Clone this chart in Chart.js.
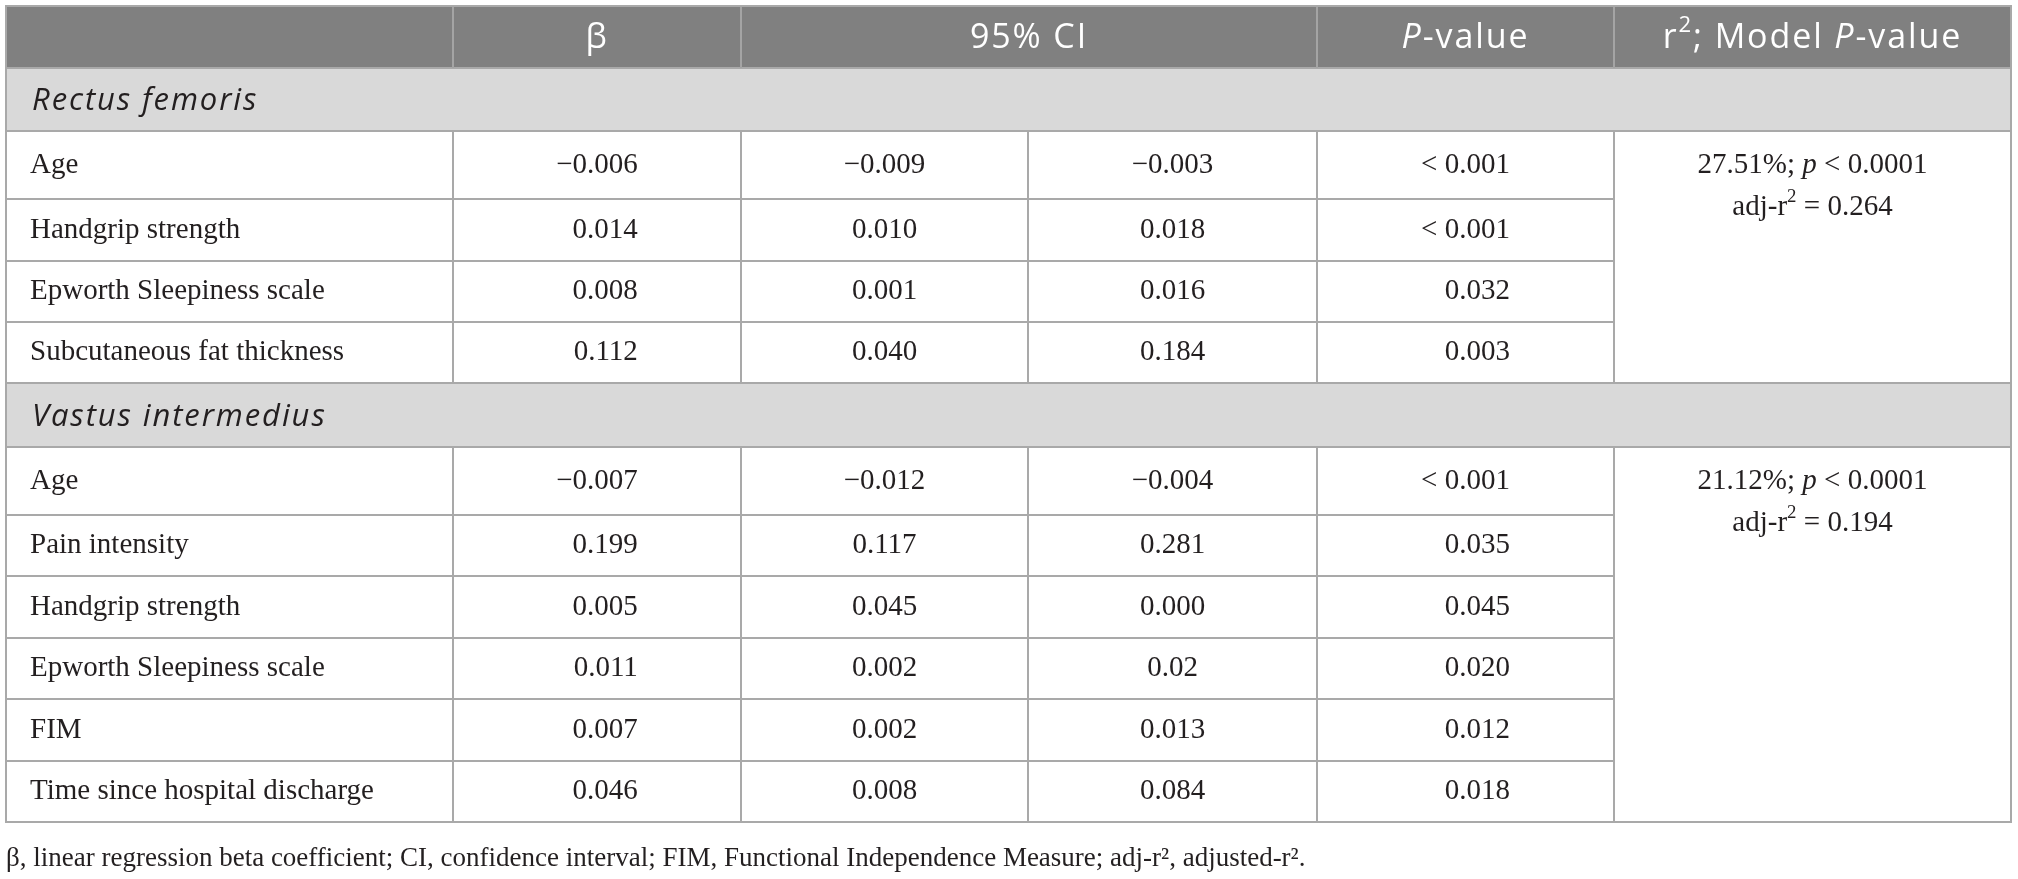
<!DOCTYPE html>
<html lang="en">
<head>
    <meta charset="UTF-8">
    <title>Regression table</title>
    <style>
        html, body { margin: 0; padding: 0; background: #ffffff; overflow: hidden; }
        /* canvas fills the whole window */
        .chart-box { width: 2018px; height: 879px; position: relative; }
    </style>
    <script src="https://cdn.jsdelivr.net/npm/chart.js"></script>
</head>
<body>
    <div class="chart-box">
        <canvas id="myChart"></canvas>
    </div>

    <script>
        // --- table data ---
        const headerLabels = ['', 'β', '95% CI', '', '*P*-value', 'r^2; Model *P*-value'];
        const groupNames = ['Rectus femoris', 'Vastus intermedius'];

        const rfVariables = ['Age', 'Handgrip strength', 'Epworth Sleepiness scale', 'Subcutaneous fat thickness'];
        const rfBeta = ['−0.006', '0.014', '0.008', '0.112'];
        const rfCiLow = ['−0.009', '0.010', '0.001', '0.040'];
        const rfCiHigh = ['−0.003', '0.018', '0.016', '0.184'];
        const rfPValue = ['< 0.001', '< 0.001', '0.032', '0.003'];
        const rfModel = ['27.51%; *p* < 0.0001', 'adj-r^2 = 0.264'];

        const viVariables = ['Age', 'Pain intensity', 'Handgrip strength', 'Epworth Sleepiness scale', 'FIM', 'Time since hospital discharge'];
        const viBeta = ['−0.007', '0.199', '0.005', '0.011', '0.007', '0.046'];
        const viCiLow = ['−0.012', '0.117', '0.045', '0.002', '0.002', '0.008'];
        const viCiHigh = ['−0.004', '0.281', '0.000', '0.02', '0.013', '0.084'];
        const viPValue = ['< 0.001', '0.035', '0.045', '0.020', '0.012', '0.018'];
        const viModel = ['21.12%; *p* < 0.0001', 'adj-r^2 = 0.194'];

        const footnote = 'β, linear regression beta coefficient; CI, confidence interval; FIM, Functional Independence Measure; adj-r², adjusted-r².';

        // build the row list the plugin walks through
        const groups = [
            { name: groupNames[0], cols: [rfVariables, rfBeta, rfCiLow, rfCiHigh, rfPValue], model: rfModel },
            { name: groupNames[1], cols: [viVariables, viBeta, viCiLow, viCiHigh, viPValue], model: viModel }
        ];
        const rows = [{ kind: 'header' }];
        groups.forEach(g => {
            rows.push({ kind: 'band', text: g.name });
            g.cols[0].forEach((v, i) => rows.push({ kind: 'data', group: g, i: i, first: i === 0 }));
        });

        // layout (scale units): column widths, row heights, alignment per column
        const colWidths = [447, 288, 287, 289, 297, 397];
        const rowHeights = [62, 63, 68, 62, 61, 61, 64, 68, 61, 62, 61, 62, 61];
        const cumulate = arr => arr.reduce((a, w) => { a.push(a[a.length - 1] + w); return a; }, [0]);
        const colEdges = cumulate(colWidths);
        const rowEdges = cumulate(rowHeights);
        const colAlign = ['left', 'decimal', 'center', 'center', 'decimal'];

        const SANS = '"Open Sans", "Noto Sans", sans-serif';
        const SERIF = '"Liberation Serif", "DejaVu Serif", serif';
        const INK = '#231f20';
        const LINE = '#a9a9a9';
        const HEAD = { fam: SANS, size: 34, track: 1.9 };
        const BAND = { fam: SANS, size: 31, track: 1.9 };
        const BODY = { fam: SERIF, size: 29, track: 0 };

        // tiny markup: *...* italic, ^x superscript
        function parseRich(s) {
            const segs = [];
            let it = false, buf = '', i = 0;
            const push = () => { if (buf) segs.push({ t: buf, it: it, sup: false }); buf = ''; };
            while (i < s.length) {
                const c = s[i];
                if (c === '*') { push(); it = !it; i++; }
                else if (c === '^') { push(); segs.push({ t: s[i + 1], it: it, sup: true }); i += 2; }
                else { buf += c; i++; }
            }
            push();
            return segs;
        }
        function setFont(ctx, seg, f) {
            ctx.font = (seg.it ? 'italic ' : '') + (seg.sup ? f.size * 0.65 : f.size) + 'px ' + f.fam;
            ctx.letterSpacing = f.track + 'px';
        }
        function richWidth(ctx, s, f) {
            return parseRich(s).reduce((w, seg) => { setFont(ctx, seg, f); return w + ctx.measureText(seg.t).width; }, 0);
        }
        function drawRich(ctx, s, px, py, align, f, color) {
            const w = richWidth(ctx, s, f);
            let cx = align === 'center' ? px - w / 2 : align === 'right' ? px - w : px;
            ctx.fillStyle = color;
            ctx.textAlign = 'left';
            ctx.textBaseline = 'middle';
            parseRich(s).forEach(seg => {
                setFont(ctx, seg, f);
                ctx.fillText(seg.t, cx, seg.sup ? py - f.size * 0.36 : py);
                cx += ctx.measureText(seg.t).width;
            });
            ctx.letterSpacing = '0px';
        }

        const tablePlugin = {
            id: 'tableCells',
            afterDraw(chart) {
                const { ctx, scales: { x, y } } = chart;
                const X = v => x.getPixelForValue(v);
                const Y = k => y.getPixelForValue(rowEdges[k]);
                const left = X(colEdges[0]), right = X(colEdges[colEdges.length - 1]);

                ctx.save();
                // backgrounds
                rows.forEach((r, k) => {
                    if (r.kind === 'data') return;
                    ctx.fillStyle = r.kind === 'header' ? '#808080' : '#d9d9d9';
                    ctx.fillRect(left, Y(k), right - left, Y(k + 1) - Y(k));
                });

                // grid lines
                ctx.lineWidth = 2;
                ctx.strokeStyle = LINE;
                const hLine = (yy, x0, x1) => { ctx.beginPath(); ctx.moveTo(x0, yy); ctx.lineTo(x1, yy); ctx.stroke(); };
                const vLine = (xx, y0, y1) => { ctx.beginPath(); ctx.moveTo(xx, y0); ctx.lineTo(xx, y1); ctx.stroke(); };
                for (let k = 1; k < rows.length; k++) {
                    const prev = rows[k - 1], cur = rows[k];
                    const inner = prev.kind === 'data' && cur.kind === 'data' && prev.group === cur.group;
                    hLine(Y(k), left, inner ? X(colEdges[5]) : right);
                }
                rows.forEach((r, k) => {
                    if (r.kind === 'band') return;
                    const edges = r.kind === 'header' ? [1, 2, 4, 5] : [1, 2, 3, 4, 5];
                    ctx.strokeStyle = r.kind === 'header' ? '#a4a4a4' : LINE;
                    edges.forEach(e => vLine(X(colEdges[e]), Y(k), Y(k + 1)));
                });
                ctx.strokeStyle = LINE;
                ctx.strokeRect(left, Y(0), right - left, Y(rows.length) - Y(0));

                // widest value per decimal column, for right alignment
                const maxW = colAlign.map((a, c) => {
                    if (a !== 'decimal') return 0;
                    let m = 0;
                    groups.forEach(g => g.cols[c].forEach(v => { m = Math.max(m, richWidth(ctx, v, BODY)); }));
                    return m;
                });

                // text
                rows.forEach((r, k) => {
                    const yc = (Y(k) + Y(k + 1)) / 2;
                    if (r.kind === 'header') {
                        headerLabels.forEach((lab, c) => {
                            if (!lab) return;
                            const span = c === 2 ? 2 : 1;
                            const xc = (X(colEdges[c]) + X(colEdges[c + span])) / 2;
                            drawRich(ctx, lab, xc, yc + 1, 'center', HEAD, '#ffffff');
                        });
                    } else if (r.kind === 'band') {
                        drawRich(ctx, '*' + r.text + '*', left + 26, yc + 2, 'left', BAND, INK);
                    } else {
                        r.group.cols.forEach((col, c) => {
                            const x0 = X(colEdges[c]), x1 = X(colEdges[c + 1]), xc = (x0 + x1) / 2;
                            const v = col[r.i];
                            if (colAlign[c] === 'left') drawRich(ctx, v, x0 + 24, yc, 'left', BODY, INK);
                            else if (colAlign[c] === 'center') drawRich(ctx, v, xc, yc, 'center', BODY, INK);
                            else drawRich(ctx, v, xc + maxW[c] / 2, yc, 'right', BODY, INK);
                        });
                        if (r.first) {
                            const xc = (X(colEdges[5]) + X(colEdges[6])) / 2;
                            r.group.model.forEach((line, j) => drawRich(ctx, line, xc, yc + j * 42, 'center', BODY, INK));
                        }
                    }
                });
                ctx.restore();
            }
        };

        const ctx = document.getElementById('myChart').getContext('2d');
        const myChart = new Chart(ctx, {
            type: 'scatter',
            data: { datasets: [] },
            options: {
                responsive: true,
                maintainAspectRatio: false,
                animation: false,
                events: [],
                layout: { padding: { left: 6, right: 7, top: 6, bottom: 2 } },
                scales: {
                    x: { type: 'linear', min: colEdges[0], max: colEdges[colEdges.length - 1], display: false },
                    y: { type: 'linear', min: rowEdges[0], max: rowEdges[rowEdges.length - 1], reverse: true, display: false }
                },
                plugins: {
                    legend: { display: false },
                    tooltip: { enabled: false },
                    title: {
                        display: true,
                        position: 'bottom',
                        align: 'start',
                        text: footnote,
                        color: INK,
                        font: { family: SERIF, size: 27, weight: 'normal', lineHeight: 1.2 },
                        padding: { top: 20.8, bottom: 1.8 }
                    }
                }
            },
            plugins: [tablePlugin]
        });
    </script>
</body>
</html>
